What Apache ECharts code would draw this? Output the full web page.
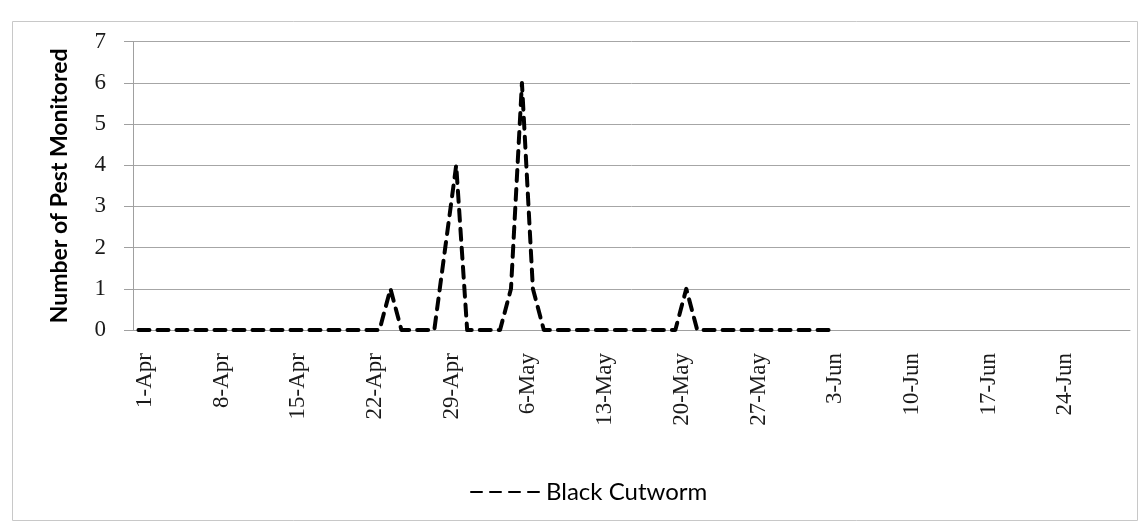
<!DOCTYPE html>
<html>
<head>
<meta charset="utf-8">
<script src="https://cdn.jsdelivr.net/npm/echarts@6/dist/echarts.min.js"></script>
<style>
html,body{margin:0;padding:0;background:#fff;}
#c{width:1147px;height:527px;}
</style>
</head>
<body>
<div id="c"></div>
<script>
// Daily categories on the date axis (1-Apr .. 30-Jun)
var dates = [
 '1-Apr','2-Apr','3-Apr','4-Apr','5-Apr','6-Apr','7-Apr','8-Apr','9-Apr','10-Apr',
 '11-Apr','12-Apr','13-Apr','14-Apr','15-Apr','16-Apr','17-Apr','18-Apr','19-Apr','20-Apr',
 '21-Apr','22-Apr','23-Apr','24-Apr','25-Apr','26-Apr','27-Apr','28-Apr','29-Apr','30-Apr',
 '1-May','2-May','3-May','4-May','5-May','6-May','7-May','8-May','9-May','10-May',
 '11-May','12-May','13-May','14-May','15-May','16-May','17-May','18-May','19-May','20-May',
 '21-May','22-May','23-May','24-May','25-May','26-May','27-May','28-May','29-May','30-May','31-May',
 '1-Jun','2-Jun','3-Jun','4-Jun','5-Jun','6-Jun','7-Jun','8-Jun','9-Jun','10-Jun',
 '11-Jun','12-Jun','13-Jun','14-Jun','15-Jun','16-Jun','17-Jun','18-Jun','19-Jun','20-Jun',
 '21-Jun','22-Jun','23-Jun','24-Jun','25-Jun','26-Jun','27-Jun','28-Jun','29-Jun','30-Jun'
];
// Labelled ticks (every 7 days)
var tickLabels = ['1-Apr','8-Apr','15-Apr','22-Apr','29-Apr','6-May','13-May','20-May','27-May','3-Jun','10-Jun','17-Jun','24-Jun'];
// Black Cutworm counts, 1-Apr .. 3-Jun
var blackCutworm = [
 0,0,0,0,0,0,0,0,0,0,   // 1-10 Apr
 0,0,0,0,0,0,0,0,0,0,   // 11-20 Apr
 0,0,0,1,0,0,0,0,2,4,   // 21-30 Apr
 0,0,0,0,1,6,1,0,0,0,   // 1-10 May
 0,0,0,0,0,0,0,0,0,0,   // 11-20 May
 1,0,0,0,0,0,0,0,0,0,0, // 21-31 May
 0,0,0                  // 1-3 Jun
];
var yTicks = [0,1,2,3,4,5,6,7];
var seriesName = 'Black Cutworm';
var yTitle = 'Number of Pest Monitored';

var chart = echarts.init(document.getElementById('c'), null, {renderer:'canvas'});
var tickSet = {};
tickLabels.forEach(function(t){ tickSet[t] = true; });
chart.setOption({
  animation:false,
  backgroundColor:'#fff',
  graphic:[{type:'rect', shape:{x:12.5,y:21.5,width:1125,height:499}, style:{fill:'none',stroke:'#c8c8c8',lineWidth:1}, silent:true, z:-1}],
  grid:{left:133, right:17, top:41.7, bottom:197, containLabel:false},
  xAxis:{
    type:'category', data:dates, boundaryGap:true,
    axisLine:{lineStyle:{color:'#a0a0a0',width:1}},
    axisTick:{interval:function(i,v){return !!tickSet[v];}, length:7, lineStyle:{color:'#a0a0a0'}},
    axisLabel:{interval:function(i,v){return !!tickSet[v];}, rotate:90, margin:23,
      fontFamily:'Liberation Serif', fontSize:23, color:'#1a1a1a', verticalAlign:'top', lineHeight:13},
    splitLine:{show:false}
  },
  yAxis:{
    type:'value', min:yTicks[0], max:yTicks[yTicks.length-1], interval:1,
    name:yTitle, nameLocation:'middle', nameGap:62,
    nameTextStyle:{fontFamily:'Lato', fontWeight:'bold', fontSize:23, color:'#000'},
    axisLine:{show:true, lineStyle:{color:'#a0a0a0'}},
    axisTick:{show:true, length:9, lineStyle:{color:'#a0a0a0'}},
    axisLabel:{margin:27, fontFamily:'Liberation Serif', fontSize:23, color:'#1a1a1a'},
    splitLine:{lineStyle:{color:'#a6a6a6',width:1}}
  },
  legend:{
    data:[seriesName], left:470, top:480, padding:0, itemWidth:70, itemHeight:14, itemGap:8,
    itemStyle:{opacity:0},
    textStyle:{fontFamily:'Lato', fontSize:24, color:'#000'}
  },
  series:[{
    name:seriesName, type:'line', data:blackCutworm, symbol:'none',
    lineStyle:{color:'#000', width:4, type:[11,8], cap:'round', join:'round'},
    itemStyle:{color:'#000'}
  }]
});
</script>
</body>
</html>
